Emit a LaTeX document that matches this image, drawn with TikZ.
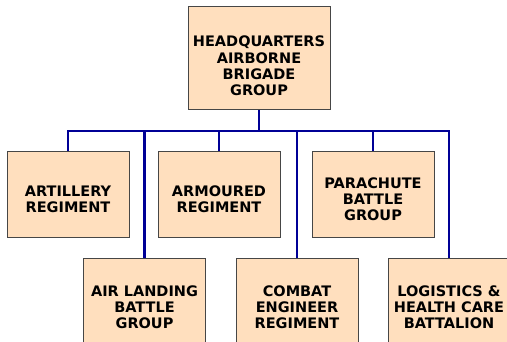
\documentclass[tikz,border=0pt]{standalone}
\usepackage{fontspec}
\setmainfont{DejaVu Sans}
\definecolor{peach}{RGB}{255,223,190}
\definecolor{navy}{RGB}{0,0,150}
\definecolor{edge}{RGB}{70,70,70}
\tikzset{
  box/.style={draw=edge, line width=1pt, fill=peach, minimum width=122pt, minimum height=86pt, inner sep=0pt},
  txt/.style={align=center, font=\fontsize{14.5}{16.2}\selectfont\bfseries, inner sep=0pt},
  conn/.style={draw=navy, line width=2.6pt, line join=miter}
}
\begin{document}
\begin{tikzpicture}[x=1pt,y=-1pt]
\useasboundingbox (0,0) rectangle (507,342);
\begin{scope}
\clip (0,0) rectangle (507,342);
\coordinate (bus) at (259,131);
\node[box, minimum width=142pt, minimum height=103pt,
  label={[txt, yshift=-7.5pt]center:HEADQUARTERS\\AIRBORNE\\BRIGADE\\GROUP}] (hq) at (259,58.5) {};
\node[box, label={[txt, yshift=-4pt]center:ARTILLERY\\REGIMENT}] (art) at (68,195) {};
\node[box, label={[txt, yshift=-4pt]center:ARMOURED\\REGIMENT}] (arm) at (219,195) {};
\node[box, label={[txt, yshift=-4.5pt]center:PARACHUTE\\BATTLE\\GROUP}] (para) at (373,195) {};
\node[box, label={[txt, yshift=-5pt]center:AIR LANDING\\BATTLE\\GROUP}] (air) at (144.5,302) {};
\node[box, label={[txt, yshift=-5pt]center:COMBAT\\ENGINEER\\REGIMENT}] (eng) at (297,302) {};
\node[box, label={[txt, yshift=-5pt]center:LOGISTICS \&\\HEALTH CARE\\BATTALION}] (log) at (449,302) {};
\draw[conn] (hq.south) -- (hq.south |- bus);
\draw[conn] (bus) -| (art.north);
\draw[conn] (bus) -| (air.north);
\draw[conn] (bus) -| (arm.north);
\draw[conn] (bus) -| (eng.north);
\draw[conn] (bus) -| (para.north);
\draw[conn] (bus) -| (log.north);
\end{scope}
\end{tikzpicture}
\end{document}
